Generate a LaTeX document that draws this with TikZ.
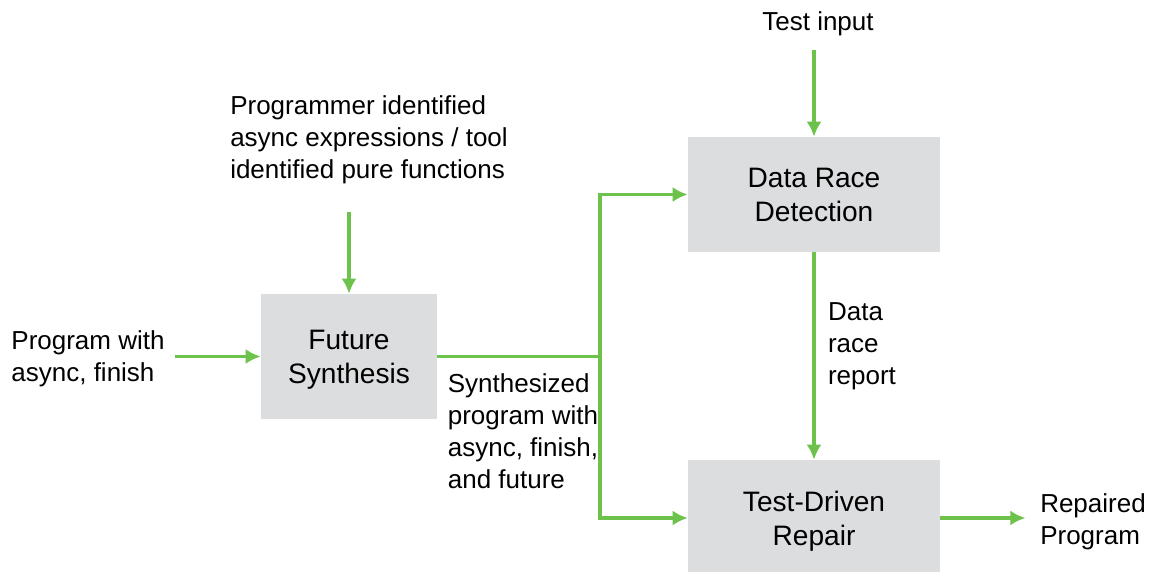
\documentclass[tikz,border=0pt]{standalone}
\usepackage{fontspec}
\setmainfont{Liberation Sans}
\usepackage{xcolor}
\usetikzlibrary{arrows.meta}
\usetikzlibrary{positioning}
\definecolor{flowgreen}{HTML}{6CC24A}
\definecolor{boxgray}{HTML}{DCDDDF}

\begin{document}
\begin{tikzpicture}[x=0.02cm,y=-0.02cm,every path/.style={>={Latex[length=3mm,width=3mm]}},
	box/.style={rectangle,fill=boxgray,align=center,text depth=0pt,font=\fontsize{16}{19.5}\selectfont},
	lbl/.style={rectangle,align=left,inner sep=2pt,font=\fontsize{14.8}{18.2}\selectfont},
	flow/.style={->,draw=flowgreen,line width=1.8pt}]
		% fix the page size
		\useasboundingbox (0,0) rectangle (1158,571);

		% draw boxes
		\node (FS) at (349,356.5) [box,minimum width=3.52cm,minimum height=2.5cm] {Future\\Synthesis};
		\node (DRD) at (814,194.5) [box,minimum width=5.04cm,minimum height=2.3cm] {Data Race\\Detection};
		\node (TDR) at (814,518) [box,minimum width=5.04cm,minimum height=2.32cm] {Test-Driven\\Repair};

		% draw input texts
		\node (PW) at (88,359) [lbl] {Program with\\async, finish};
		\node (PI) at (369,140) [lbl] {Programmer identified\\async expressions / tool\\identified pure functions};
		\node (TI) at (818,24) [lbl] {Test input};

		% draw output texts
		\node (SP) at (523,431) [lbl] {Synthesized\\program with\\async, finish,\\and future};
		\node (DR) at (862,346) [lbl] {Data\\race\\report};
		\node (RP) at (1093,522) [lbl] {Repaired\\Program};

		% split point after synthesis
		\coordinate (J) at (600,356.5);

		% draw arrows into future synthesis
		\draw[flow,shorten <=4] (PW.east |- FS.west) -- (FS.west);
		\draw[flow,shorten <=0.48cm] (FS.north |- PI.south) -- (FS.north);

		% draw lines from future synthesis to detection and repair
		\draw[flow,-] (FS) -- (J);
		\draw[flow] (J) |- (DRD);
		\draw[flow] (J) |- (TDR);

		% draw arrows into detection and repair
		\draw[flow,shorten <=0.2cm] (DRD.north |- TI.south) -- (DRD);
		\draw[flow] (DRD) -- (TDR);
		\draw[flow,shorten >=0.22cm] (TDR) -- (TDR -| RP.west);
	\end{tikzpicture}
\end{document}
